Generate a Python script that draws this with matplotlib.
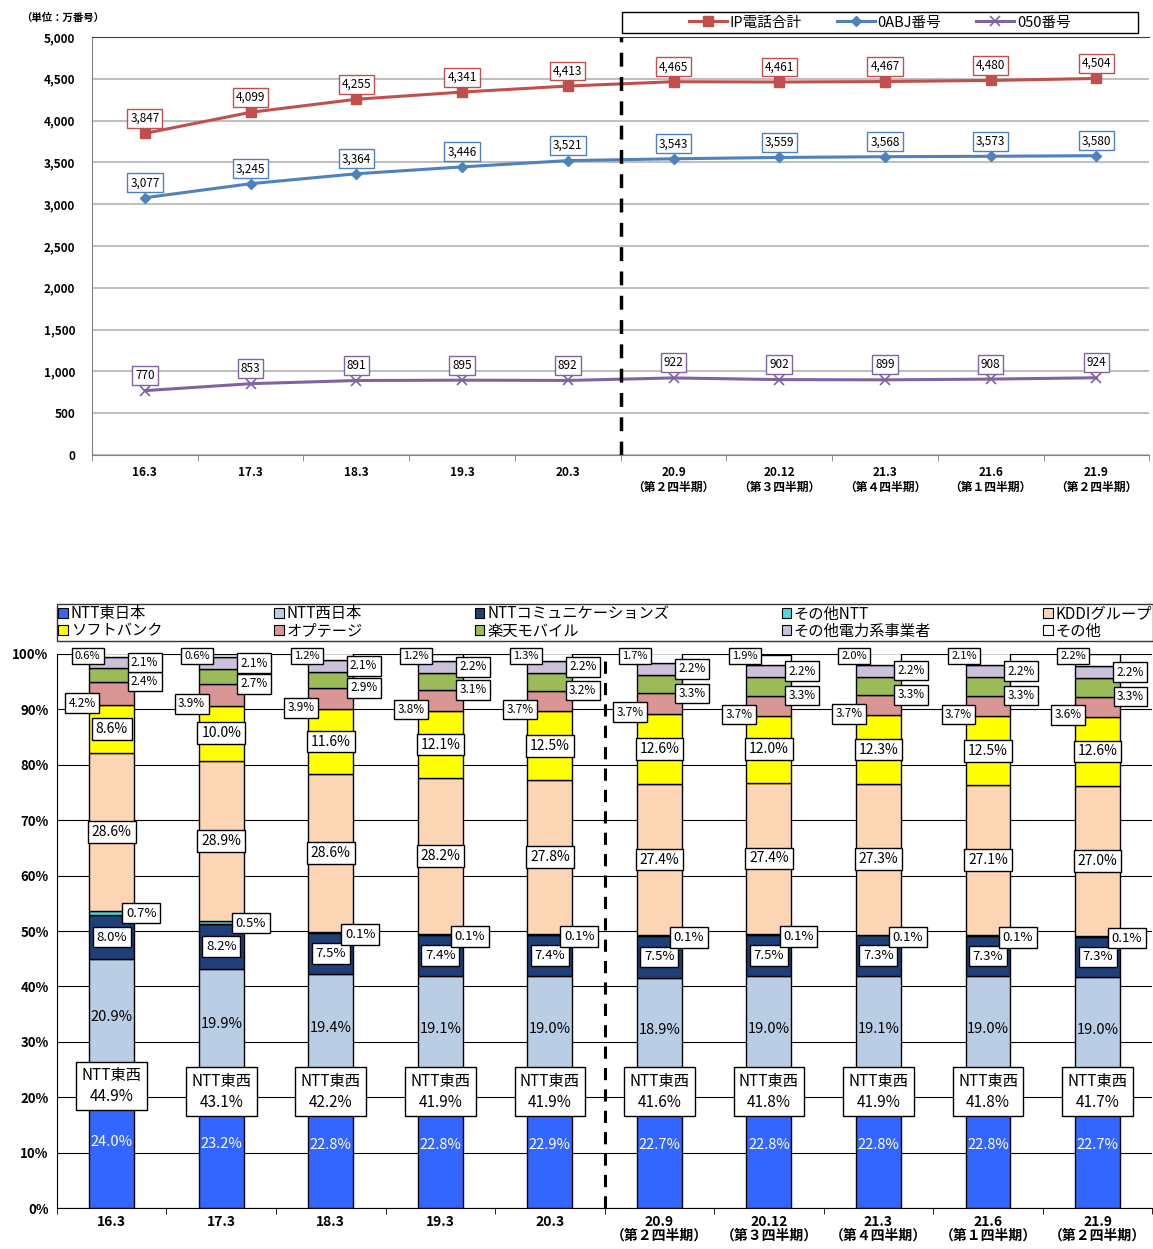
import matplotlib
matplotlib.use('Agg')
import matplotlib.pyplot as plt
import numpy as np
from matplotlib.patches import Patch, Rectangle

plt.rcParams['font.family'] = ['Noto Sans CJK JP', 'DejaVu Sans']

# ---- データ ----
periods = ['16.3', '17.3', '18.3', '19.3', '20.3', '20.9', '20.12', '21.3', '21.6', '21.9']
quarters = ['', '', '', '', '', '（第２四半期）', '（第３四半期）', '（第４四半期）', '（第１四半期）', '（第２四半期）']

ip_total = [3847, 4099, 4255, 4341, 4413, 4465, 4461, 4467, 4480, 4504]
abj = [3077, 3245, 3364, 3446, 3521, 3543, 3559, 3568, 3573, 3580]
n050 = [770, 853, 891, 895, 892, 922, 902, 899, 908, 924]

ntt_east = [24.0, 23.2, 22.8, 22.8, 22.9, 22.7, 22.8, 22.8, 22.8, 22.7]
ntt_west = [20.9, 19.9, 19.4, 19.1, 19.0, 18.9, 19.0, 19.1, 19.0, 19.0]
ntt_com = [8.0, 8.2, 7.5, 7.4, 7.4, 7.5, 7.5, 7.3, 7.3, 7.3]
ntt_other = [0.7, 0.5, 0.1, 0.1, 0.1, 0.1, 0.1, 0.1, 0.1, 0.1]
kddi = [28.6, 28.9, 28.6, 28.2, 27.8, 27.4, 27.4, 27.3, 27.1, 27.0]
softbank = [8.6, 10.0, 11.6, 12.1, 12.5, 12.6, 12.0, 12.3, 12.5, 12.6]
optage = [4.2, 3.9, 3.9, 3.8, 3.7, 3.7, 3.7, 3.7, 3.7, 3.6]
rakuten = [2.4, 2.7, 2.9, 3.1, 3.2, 3.3, 3.3, 3.3, 3.3, 3.3]
power = [2.1, 2.1, 2.1, 2.2, 2.2, 2.2, 2.2, 2.2, 2.2, 2.2]
others = [0.6, 0.6, 1.2, 1.2, 1.3, 1.7, 1.9, 2.0, 2.1, 2.2]
ntt_ew = [44.9, 43.1, 42.2, 41.9, 41.9, 41.6, 41.8, 41.9, 41.8, 41.7]

seg_names = ['NTT東日本', 'NTT西日本', 'NTTコミュニケーションズ', 'その他NTT', 'KDDIグループ',
             'ソフトバンク', 'オプテージ', '楽天モバイル', 'その他電力系事業者', 'その他']
seg_colors = ['#3366FF', '#B9CDE5', '#1F3F78', '#4DD9E0', '#FCD5B5',
              '#FFFF00', '#DA9694', '#9BBB59', '#CCC1DA', '#FFFFFF']

fig = plt.figure(figsize=(11.53, 12.49), dpi=100)
x = np.arange(len(periods))

# ================= 上段：番号数推移 =================
ax1 = fig.add_axes([0.0798, 0.6357, 0.917, 0.3347])
c_ip, c_abj, c_050 = '#C0504D', '#4F81BD', '#8064A2'
ax1.plot(x, ip_total, color=c_ip, lw=2.2, marker='s', ms=7, label='IP電話合計', zorder=3)
ax1.plot(x, abj, color=c_abj, lw=2.2, marker='D', ms=5, label='0ABJ番号', zorder=3)
ax1.plot(x, n050, color=c_050, lw=2.2, marker='x', ms=7, mew=1.2, label='050番号', zorder=3)

for vals, col in [(ip_total, c_ip), (abj, c_abj), (n050, c_050)]:
    for i, v in enumerate(vals):
        ax1.annotate(f'{v:,}', (i, v), xytext=(0, 15), textcoords='offset pixels',
                     ha='center', va='center', fontsize=8.5,
                     bbox=dict(boxstyle='square,pad=0.25', fc='white', ec=col, lw=1))

ax1.set_xlim(-0.5, 9.5)
ax1.set_ylim(0, 5000)
ax1.set_yticks(np.arange(0, 5001, 500))
ax1.set_yticklabels([f'{v:,}' for v in range(0, 5001, 500)], fontsize=8.5, fontweight='bold')
ax1.yaxis.grid(True, color='#C0C0C0', lw=1.5)
ax1.set_axisbelow(True)
ax1.set_xticks(x)
ax1.set_xticklabels([p if q == '' else f'{p}\n{q}' for p, q in zip(periods, quarters)],
                    fontsize=8.5, fontweight='bold', va='top', linespacing=1.2)
ax1.set_xticks(np.arange(-0.5, 10, 1), minor=True)
ax1.tick_params(axis='x', which='major', length=0, pad=8)
ax1.tick_params(axis='x', which='minor', length=4, color='#808080')
ax1.tick_params(axis='y', length=0, pad=12)
for s in ['left', 'bottom']:
    ax1.spines[s].set_color('#808080')
ax1.spines['top'].set_color('#404040')
ax1.spines['right'].set_visible(False)
ax1.axvline(4.5, color='black', lw=2.5, ls=(0, (4, 3)), zorder=4)

# 凡例（枠は別に描く）
fig.patches.append(Rectangle((622 / 1153, 1 - 33 / 1249), 516 / 1153, 21 / 1249,
                             transform=fig.transFigure, fill=False, ec='black', lw=1))
fig.legend(*ax1.get_legend_handles_labels(), loc='center',
           bbox_to_anchor=(622 / 1153, 1 - 33 / 1249, 516 / 1153, 21 / 1249),
           ncol=3, fontsize=10.5, frameon=False, borderpad=0, borderaxespad=0,
           handlelength=2.6, handletextpad=0.2, columnspacing=2.4)
fig.text(0.018, 1 - 18 / 1249, '（単位：万番号）', fontsize=7.5, fontweight='bold', va='center')

# ================= 下段：シェア推移 =================
ax2 = fig.add_axes([0.0494, 0.0328, 0.950, 0.4436])
segs = [ntt_east, ntt_west, ntt_com, ntt_other, kddi, softbank, optage, rakuten, power, others]
bottom = np.zeros(len(periods))
bottoms = []
for vals, col, name in zip(segs, seg_colors, seg_names):
    vals = np.array(vals)
    ax2.bar(x, vals, bottom=bottom, width=0.41, color=col, edgecolor='black', lw=1,
            label=name, zorder=2)
    bottoms.append(bottom.copy())
    bottom = bottom + vals

box = dict(boxstyle='square,pad=0.28', fc='white', ec='black', lw=1)
for i in range(len(periods)):
    b = [bb[i] for bb in bottoms]
    ax2.text(i, b[0] + ntt_east[i] / 2, f'{ntt_east[i]:.1f}%', ha='center', va='center',
             color='white', fontsize=10.5, zorder=5)
    ax2.text(i, b[1] + ntt_west[i] / 2, f'{ntt_west[i]:.1f}%', ha='center', va='center',
             color='black', fontsize=10.5, zorder=5)
    ax2.text(i, 22 if i == 0 else 21, f'NTT東西\n{ntt_ew[i]:.1f}%', ha='center', va='center',
             fontsize=11, linespacing=1.3, zorder=6,
             bbox=dict(boxstyle='square,pad=0.35', fc='white', ec='black', lw=1))
    ax2.text(i, b[2] + ntt_com[i] / 2, f'{ntt_com[i]:.1f}%', ha='center', va='center',
             fontsize=9.5, zorder=6, bbox=box)
    ax2.text(i + 0.27, b[3] + ntt_other[i] - 0.4, f'{ntt_other[i]:.1f}%', ha='center',
             va='center', fontsize=9.5, zorder=6, bbox=box)
    ax2.text(i, b[4] + kddi[i] / 2, f'{kddi[i]:.1f}%', ha='center', va='center',
             fontsize=10, zorder=6, bbox=box)
    ax2.text(i, b[5] + softbank[i] / 2, f'{softbank[i]:.1f}%', ha='center', va='center',
             fontsize=10, zorder=6, bbox=box)
    ax2.text(i - 0.27, b[6] + 0.3, f'{optage[i]:.1f}%', ha='center', va='center',
             fontsize=8.5, zorder=6, bbox=box)
    ax2.text(i + 0.3, b[7], f'{rakuten[i]:.1f}%', ha='center', va='center',
             fontsize=8.5, zorder=6, bbox=box)
    ax2.text(i + 0.3, b[8] + power[i] / 2, f'{power[i]:.1f}%', ha='center', va='center',
             fontsize=8.5, zorder=6, bbox=box)
    ax2.text(i - 0.22, 99.7, f'{others[i]:.1f}%', ha='center', va='center',
             fontsize=8, zorder=6, bbox=box)

ax2.set_xlim(-0.5, 9.5)
ax2.set_ylim(0, 100)
ax2.set_yticks(np.arange(0, 101, 10))
ax2.set_yticklabels([f'{v}%' for v in range(0, 101, 10)], fontsize=9.5, fontweight='bold')
ax2.yaxis.grid(True, color='black', lw=0.8)
ax2.set_axisbelow(True)
ax2.set_xticks(x)
ax2.set_xticklabels([p if q == '' else f'{p}\n{q}' for p, q in zip(periods, quarters)],
                    fontsize=10, fontweight='bold', va='top', linespacing=0.95)
ax2.set_xticks(np.arange(-0.5, 10, 1), minor=True)
ax2.tick_params(axis='x', which='major', length=0, pad=5)
ax2.tick_params(axis='x', which='minor', length=4)
ax2.tick_params(axis='y', length=0, pad=6)
ax2.spines['top'].set_visible(False)
ax2.spines['right'].set_visible(False)
ax2.axvline(4.5, ymax=0.995, color='black', lw=2.2, ls=(0, (4, 3)), zorder=4)

handles = [Patch(fc=c, ec='black', lw=0.8) for c in seg_colors]
order = [0, 5, 1, 6, 2, 7, 3, 8, 4, 9]
fig.legend([handles[k] for k in order], [seg_names[k] for k in order],
           loc='lower left', bbox_to_anchor=(0.0494, 1 - 641 / 1249, 0.951, 38 / 1249),
           mode='expand', ncol=5, fontsize=11, frameon=True, fancybox=False,
           edgecolor='black', borderpad=0.1, labelspacing=0.0,
           handlelength=0.6, handleheight=0.6, handletextpad=0.2, borderaxespad=0)

fig.savefig('out.png', dpi=100)
